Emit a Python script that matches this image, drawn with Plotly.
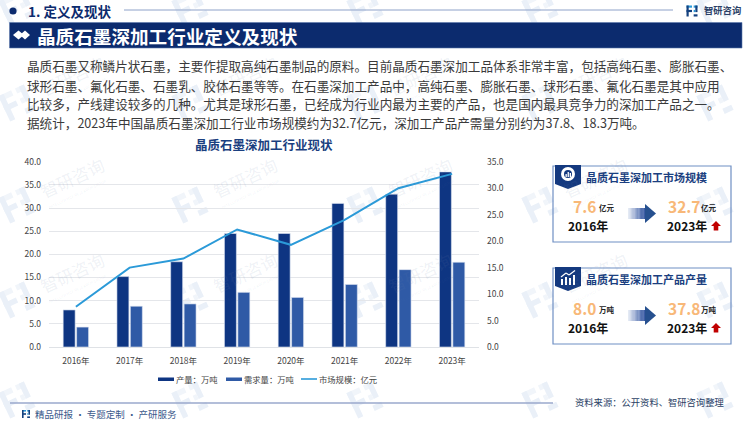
"""Graphite deep processing industry slide."""

import math

import plotly.graph_objects as go

WIDTH = 750
HEIGHT = 421
FONT = "Noto Sans CJK SC"
NAVY = "#0c2b6e"
WATERMARK = "rgba(110,130,170,0.11)"

YEARS = ["2016年", "2017年", "2018年", "2019年", "2020年", "2021年", "2022年", "2023年"]
OUTPUT = [8.0, 15.2, 18.4, 24.5, 24.5, 31.0, 33.0, 37.8]
DEMAND = [4.3, 8.8, 9.3, 11.8, 10.7, 13.5, 16.7, 18.3]
MARKET = [7.6, 15.0, 16.7, 22.2, 19.3, 24.0, 30.0, 32.7]

BODY_LINES = [
    "晶质石墨又称鳞片状石墨，主要作提取高纯石墨制品的原料。目前晶质石墨深加工品体系非常丰富，包括高纯石墨、膨胀石墨、",
    "球形石墨、氟化石墨、石墨乳、胶体石墨等等。在石墨深加工产品中，高纯石墨、膨胀石墨、球形石墨、氟化石墨是其中应用",
    "比较多，产线建设较多的几种。尤其是球形石墨，已经成为行业内最为主要的产品，也是国内最具竞争力的深加工产品之一。",
    "据统计，2023年中国晶质石墨深加工行业市场规模约为32.7亿元，深加工产品产需量分别约为37.8、18.3万吨。",
]


def px(x):
    return x / WIDTH


def py(y):
    return 1 - y / HEIGHT


fig = go.Figure()
fig.add_bar(x=YEARS, y=OUTPUT, name="产量：万吨", marker_color="#0e3582",
            marker_line=dict(color="#dfe6f3", width=0.6), showlegend=False)
fig.add_bar(x=YEARS, y=DEMAND, name="需求量：万吨", marker_color="#2f5aa6",
            marker_line=dict(color="#dfe6f3", width=0.6), showlegend=False)
fig.add_scatter(x=YEARS, y=MARKET, name="市场规模：亿元", mode="lines", yaxis="y2",
                line=dict(color="#2b9ad8", width=2), showlegend=False)


def text(x, y, label, size, color="#333333", bold=False, anchor="left", angle=0):
    fig.add_annotation(
        x=px(x), y=py(y), xref="paper", yref="paper", text=label, showarrow=False,
        xanchor=anchor, yanchor="middle", borderpad=0, textangle=angle,
        font=dict(family=FONT, size=size, color=color, weight=700 if bold else 400),
    )


def rect(x0, y0, x1, y1, fill=None, line=None, width=0, layer="above"):
    fig.add_shape(
        type="rect", xref="paper", yref="paper", layer=layer,
        x0=px(x0), y0=py(y0), x1=px(x1), y1=py(y1),
        fillcolor=fill, line=dict(color=line, width=width),
    )


def poly(points, fill, layer="above"):
    path = "M" + " L".join(f"{px(x):.5f},{py(y):.5f}" for x, y in points) + " Z"
    fig.add_shape(type="path", xref="paper", yref="paper", path=path, layer=layer,
                  fillcolor=fill, line=dict(width=0))


def segment(x0, y0, x1, y1, color, width):
    fig.add_shape(type="line", xref="paper", yref="paper", x0=px(x0), y0=py(y0),
                  x1=px(x1), y1=py(y1), line=dict(color=color, width=width))


def circle(cx, cy, r, fill, line=None, width=0):
    fig.add_shape(type="circle", xref="paper", yref="paper",
                  x0=px(cx - r), y0=py(cy - r), x1=px(cx + r), y1=py(cy + r),
                  fillcolor=fill, line=dict(color=line, width=width))


def logo_blocks(cx, cy, scale, fill, top_fill, angle, layer):
    # small company mark built from blocks
    blocks = [
        ((-5, -5, 0, -3), top_fill), ((-5, -5, -3, 5), fill), ((-5, -1, 0, 1), fill),
        ((1.5, -5, 5, -3), top_fill), ((3, -5, 5, 1), fill), ((1.5, 3, 5, 5), fill),
        ((1.5, -1, 3, 1), top_fill),
    ]
    ca, sa = math.cos(angle), math.sin(angle)
    for (x0, y0, x1, y1), color in blocks:
        corners = [(x0, y0), (x1, y0), (x1, y1), (x0, y1)]
        poly([(cx + scale * (x * ca - y * sa), cy + scale * (x * sa + y * ca)) for x, y in corners],
             color, layer)


# watermark grid
for logo_x in [17, 190, 365, 540, 715]:
    for logo_y in [8, 103, 205, 300, 400]:
        logo_blocks(logo_x, logo_y, 2.8, "#eaf0f8", "#f1f5fa", math.radians(-25), "below")
        if 30 < logo_y < 390 and logo_x < 650:
            text(logo_x + 55, logo_y - 28, "智研咨询", 17, WATERMARK, anchor="center", angle=-25)
            text(logo_x + 60, logo_y - 11, "INTELLIGENCE RESEARCH GROUP", 4, WATERMARK,
                 anchor="center", angle=-25)

# page header
circle(13, 11, 3.6, NAVY)
text(27, 11, "1. 定义及现状", 13.5, NAVY, bold=True)
segment(124, 10, 673, 10, "#8ea2c9", 1)
logo_blocks(692, 11, 1.1, "#14417f", "#2b9ad8", 0, "above")
text(703, 10, "智研咨询", 9.3, "#2b3f66", bold=True)
rect(9.5, 22.5, 742, 48, fill=NAVY, line="#5c78ad", width=0.6)
poly([(13, 35), (18.5, 30.5), (24, 35), (18.5, 39.5)], "#ffffff")
poly([(20, 35), (25, 30.5), (30, 35), (25, 39.5)], "#ffffff")
text(36, 35, "晶质石墨深加工行业定义及现状", 18.6, "#ffffff", bold=True)

for line_text, line_y in zip(BODY_LINES, [66, 85, 104, 122]):
    text(26, line_y, line_text, 12.6, "#3a3a3a")

# chart title and hand placed legend
text(264, 144, "晶质石墨深加工行业现状", 12.5, "#1b3f80", bold=True, anchor="center")
rect(158, 377.5, 174, 381, fill="#0e3582")
text(175, 379, "产量：万吨", 8.3, "#444444")
rect(226, 377.5, 242, 381, fill="#2f5aa6")
text(243, 379, "需求量：万吨", 8.3, "#444444")
segment(301, 379, 317, 379, "#2b9ad8", 1.6)
text(318, 379, "市场规模：亿元", 8.3, "#444444")

# footer
segment(10, 403, 553, 403, "#9aa9cc", 1.6)
logo_blocks(26, 414, 0.8, "#14417f", "#2b9ad8", 0, "above")
text(34, 414, "精品研报 · 专题定制 · 产研服务", 9.5, "#3c5a8c")
text(574, 402, "资料来源：公开资料、智研咨询整理", 9.3, "#2b3f66")


def panel(top, title, unit, start_value, end_value):
    rect(553, top, 731, top + 76, line="#6f8fc4", width=1.2)
    poly([(555, top - 1), (581, top - 1), (581, top + 18), (568, top + 23), (555, top + 18)], "#14397f")
    text(585, top + 11, title, 11, "#1b3f80", bold=True)
    text(572, top + 40, start_value, 15.5, "#f8b878", bold=True)
    text(598, top + 41, unit, 7.5, "#222222", bold=True)
    text(567, top + 59, "2016年", 12, "#111111", bold=True)
    text(667, top + 40, end_value, 15.5, "#f8b878", bold=True)
    text(700, top + 41, unit, 7.5, "#222222", bold=True)
    text(666, top + 59, "2023年", 12, "#111111", bold=True)
    # fading arrow
    steps = 14
    for i in range(steps):
        share = i / (steps - 1)
        red = round(228 - share * 190)
        green = round(234 - share * 160)
        blue = round(244 - share * 90)
        color = f"rgb({red},{green},{blue})"
        x0 = 628 + i * 18 / steps
        x1 = 628 + (i + 1) * 18 / steps + 0.2
        rect(x0, top + 42, x1, top + 53, fill=color)
    poly([(645, top + 38), (656, top + 47.5), (645, top + 57)], "#26508f")
    # red up arrow
    poly([(716, top + 55), (721, top + 60), (718.3, top + 60), (718.3, top + 64.5),
          (713.7, top + 64.5), (713.7, top + 60), (711, top + 60)], "#c00000")


panel(166, "晶质石墨深加工市场规模", "亿元", "7.6", "32.7")
panel(268, "晶质石墨深加工产品产量", "万吨", "8.0", "37.8")

# badge icons
circle(568, 174, 7, "#ffffff")
circle(568, 174, 4, "#14397f")
rect(565.5, 174, 566.8, 177, fill="#ffffff")
rect(567.6, 172, 568.9, 177, fill="#ffffff")
rect(569.7, 173, 571, 177, fill="#ffffff")
rect(561, 279, 563, 285, fill="#ffffff")
rect(565, 277, 567, 285, fill="#ffffff")
rect(569, 278, 571, 285, fill="#ffffff")
rect(573, 275, 575, 285, fill="#ffffff")
segment(561, 277, 566, 273, "#ffffff", 1.2)
segment(566, 273, 569, 275, "#ffffff", 1.2)
segment(569, 275, 575, 270.5, "#ffffff", 1.2)

fig.update_layout(
    width=WIDTH,
    height=HEIGHT,
    margin=dict(l=0, r=0, t=0, b=0, pad=0, autoexpand=False),
    autosize=False,
    paper_bgcolor="#ffffff",
    plot_bgcolor="rgba(0,0,0,0)",
    barmode="group",
    bargap=0.5,
    bargroupgap=0.11,
    font=dict(family=FONT, size=9, color="#444444"),
    xaxis=dict(
        domain=[px(49), px(479)],
        type="category",
        showgrid=False,
        showline=True,
        linecolor="#dfe2e6",
        linewidth=1,
        ticks="",
        ticklabelstandoff=6,
        tickfont=dict(size=8.5, color="#444444"),
    ),
    yaxis=dict(
        domain=[py(347), py(161.7)],
        range=[0, 40],
        dtick=5,
        tickformat=".1f",
        gridcolor="#e4e6ea",
        gridwidth=1,
        zeroline=False,
        ticks="",
        ticklabelstandoff=7,
        tickfont=dict(size=8.5, color="#444444"),
    ),
    yaxis2=dict(
        overlaying="y",
        side="right",
        range=[0, 35],
        dtick=5,
        tickformat=".1f",
        showgrid=False,
        zeroline=False,
        ticks="",
        ticklabelstandoff=7,
        tickfont=dict(size=8.5, color="#444444"),
    ),
)

# the browser's default body margin would push the figure off the window
fig.write_html(
    "out.html",
    config={"displayModeBar": False},
    post_script="document.body.style.margin='0';",
)
